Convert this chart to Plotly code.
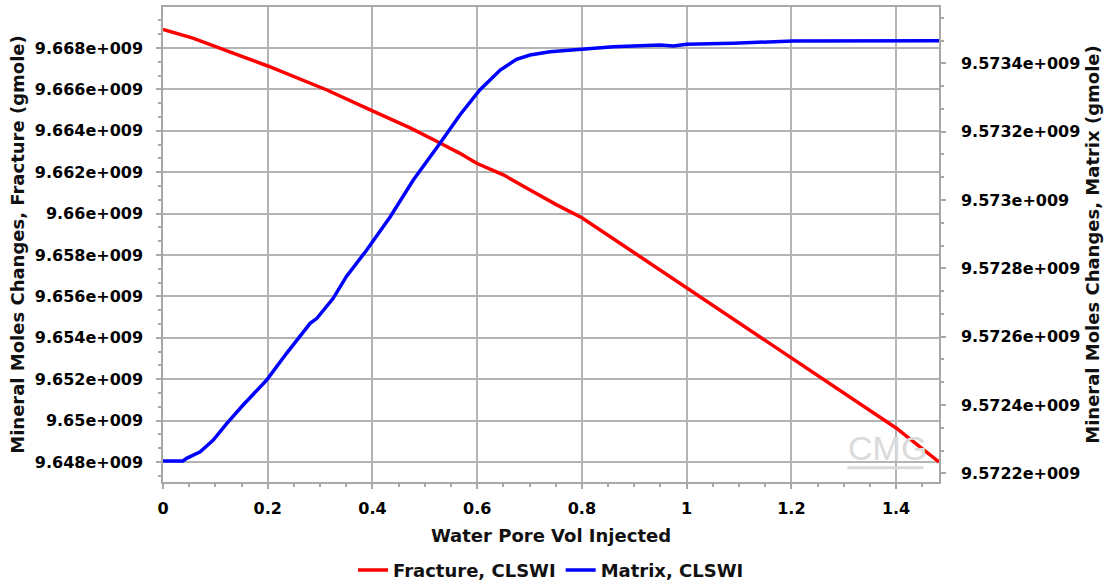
import plotly.graph_objects as go

# Fracture mineral moles vs injected water pore volumes (left axis)
frac_pv = [0, 0.057, 0.2, 0.313, 0.4, 0.472, 0.529, 0.567, 0.599, 0.650,
           0.701, 0.752, 0.8, 1.0, 1.1, 1.2, 1.4, 1.482]
frac_moles = [9.66890e9, 9.66848e9, 9.66713e9, 9.66597e9, 9.66496e9, 9.66414e9,
              9.66341e9, 9.66291e9, 9.66243e9, 9.66187e9, 9.66114e9, 9.66042e9,
              9.65980e9, 9.65641e9, 9.65472e9, 9.65302e9, 9.64964e9, 9.64800e9]

# Matrix mineral moles (right axis)
mat_pv = [0, 0.038, 0.045, 0.071, 0.096, 0.122, 0.153, 0.198, 0.236, 0.281,
          0.294, 0.325, 0.350, 0.389, 0.434, 0.478, 0.529, 0.567, 0.605, 0.644,
          0.675, 0.701, 0.739, 0.80, 0.86, 0.949, 0.975, 1.0, 1.089, 1.203, 1.482]
mat_moles = [9.5722359e9, 9.5722359e9, 9.5722438e9, 9.5722632e9, 9.5722974e9,
             9.5723463e9, 9.5723998e9, 9.5724730e9, 9.5725512e9, 9.5726390e9,
             9.5726536e9, 9.5727122e9, 9.5727754e9, 9.5728535e9, 9.5729510e9,
             9.5730584e9, 9.5731658e9, 9.5732487e9, 9.5733219e9, 9.5733804e9,
             9.5734117e9, 9.5734243e9, 9.5734340e9, 9.5734419e9, 9.5734486e9,
             9.5734536e9, 9.5734506e9, 9.5734556e9, 9.5734585e9, 9.5734653e9,
             9.5734662e9]

x_ticks = [0, 0.2, 0.4, 0.6, 0.8, 1.0, 1.2, 1.4]
x_labels = ["0", "0.2", "0.4", "0.6", "0.8", "1", "1.2", "1.4"]

left_ticks = [9.648e9, 9.650e9, 9.652e9, 9.654e9, 9.656e9, 9.658e9,
              9.660e9, 9.662e9, 9.664e9, 9.666e9, 9.668e9]
left_labels = ["9.648e+009", "9.65e+009", "9.652e+009", "9.654e+009",
               "9.656e+009", "9.658e+009", "9.66e+009", "9.662e+009",
               "9.664e+009", "9.666e+009", "9.668e+009"]

right_ticks = [9.5722e9, 9.5724e9, 9.5726e9, 9.5728e9, 9.5730e9, 9.5732e9, 9.5734e9]
right_labels = ["9.5722e+009", "9.5724e+009", "9.5726e+009", "9.5728e+009",
                "9.573e+009", "9.5732e+009", "9.5734e+009"]

FONT = "DejaVu Sans"
GRID = "#b4b4b4"
AXIS = "#a8a8a8"

fig = go.Figure()
fig.add_trace(go.Scatter(x=frac_pv, y=frac_moles, mode="lines",
                         name="Fracture, CLSWI",
                         line=dict(color="#ff0000", width=3.5)))
fig.add_trace(go.Scatter(x=mat_pv, y=mat_moles, mode="lines",
                         name="Matrix, CLSWI", yaxis="y2",
                         line=dict(color="#0000ff", width=3.5)))

tickfont = dict(family=FONT, size=16, color="black", weight="bold")
titlefont = dict(family=FONT, size=18, color="#111111", weight="bold")

fig.update_layout(
    width=1112, height=586,
    margin=dict(l=163, r=173, t=7, b=104, autoexpand=False),
    paper_bgcolor="white", plot_bgcolor="white",
    font=dict(family=FONT, size=16, color="black", weight="bold"),
    showlegend=True,
    legend=dict(orientation="h", x=0.5, xanchor="center",
                yref="container", y=0.027, yanchor="middle",
                font=titlefont, itemwidth=30, tracegroupgap=0),
    xaxis=dict(
        range=[0, 1.482], tickvals=x_ticks, ticktext=x_labels,
        tickfont=tickfont, ticks="outside", ticklen=5, tickcolor=AXIS,
        tickwidth=1.5,
        minor=dict(ticks="outside", ticklen=3, dtick=0.05, tick0=0,
                   tickcolor=AXIS, showgrid=False),
        showgrid=True, gridcolor=GRID, gridwidth=1.5,
        showline=True, linecolor=AXIS, linewidth=1.5, mirror=True,
        zeroline=False, ticklabelstandoff=6,
        title=dict(text="Water Pore Vol Injected", font=titlefont, standoff=12),
    ),
    yaxis=dict(
        range=[9.64703e9, 9.66998e9], tickvals=left_ticks, ticktext=left_labels,
        tickfont=tickfont, ticks="outside", ticklen=5, tickcolor=AXIS,
        tickwidth=1.5,
        minor=dict(ticks="outside", ticklen=3, dtick=2e6 / 3, tick0=9.648e9,
                   tickcolor=AXIS, showgrid=False),
        showgrid=True, gridcolor=GRID, gridwidth=1.5,
        showline=True, linecolor=AXIS, linewidth=1.5,
        zeroline=False, ticklabelstandoff=10,
        title=dict(text="Mineral Moles Changes, Fracture (gmole)",
                   font=titlefont, standoff=5),
    ),
    yaxis2=dict(
        overlaying="y", side="right",
        range=[9.5721745e9, 9.5735648e9], tickvals=right_ticks,
        ticktext=right_labels,
        tickfont=tickfont, ticks="outside", ticklen=5, tickcolor=AXIS,
        tickwidth=1.5,
        minor=dict(ticks="outside", ticklen=3, dtick=2e5 / 3, tick0=9.5722e9,
                   tickcolor=AXIS, showgrid=False),
        showgrid=False, showline=True, linecolor=AXIS, linewidth=1.5,
        zeroline=False, ticklabelstandoff=12,
        title=dict(text="Mineral Moles Changes, Matrix (gmole)",
                   font=titlefont, standoff=7),
    ),
)

# Faint CMG watermark in the lower-right corner of the plot area
fig.add_annotation(xref="paper", yref="paper", x=0.933, y=0.072,
                   xanchor="center", yanchor="middle",
                   text="CMG", showarrow=False,
                   font=dict(family="Liberation Sans", size=34, color="#dadada",
                             weight="normal"))
fig.add_shape(type="line", xref="paper", yref="paper",
              x0=0.882, x1=0.98, y0=0.03, y1=0.03,
              line=dict(color="#dadada", width=3))

fig.write_html("out.html")
